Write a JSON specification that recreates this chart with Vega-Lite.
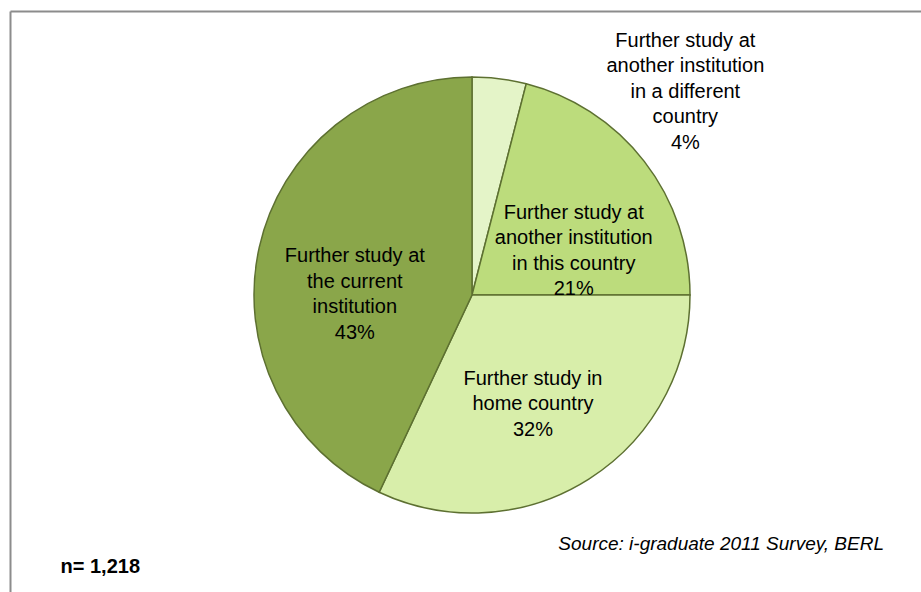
{
  "$schema": "https://vega.github.io/schema/vega-lite/v6.json",
  "width": 924,
  "height": 590,
  "autosize": {"type": "none"},
  "padding": {"left": 10, "top": 11, "right": 0, "bottom": 0},
  "background": "white",
  "config": {
    "view": {"stroke": null},
    "text": {"lineBreak": "\n"}
  },
  "title": {
    "text": "Source: i-graduate 2011 Survey, BERL",
    "orient": "bottom",
    "anchor": "end",
    "frame": "group",
    "font": "Liberation Sans",
    "fontSize": 19,
    "fontStyle": "italic",
    "fontWeight": "normal",
    "color": "black",
    "baseline": "alphabetic",
    "offset": 0,
    "dx": -50,
    "dy": -51
  },
  "data": {
    "values": [
      {"category": "Further study at another institution in a different country", "label": "Further study at\nanother institution\nin a different\ncountry\n4%", "share": 4, "rank": 1},
      {"category": "Further study at another institution in this country", "label": "Further study at\nanother institution\nin this country\n21%", "share": 21, "rank": 2},
      {"category": "Further study in home country", "label": "Further study in\nhome country\n32%", "share": 32, "rank": 3},
      {"category": "Further study at the current institution", "label": "Further study at\nthe current\ninstitution\n43%", "share": 43, "rank": 4}
    ]
  },
  "layer": [
    {
      "mark": {"type": "point", "opacity": 0},
      "encoding": {
        "x": {"field": "share", "type": "quantitative", "scale": {"domain": [0, 100], "nice": false},
          "axis": {"orient": "bottom", "values": [0], "grid": true, "gridColor": "#8c8c8c", "gridWidth": 2, "gridOpacity": 1,
            "domain": false, "ticks": false, "labels": false,
            "title": "n= 1,218", "titleFont": "Liberation Sans", "titleFontSize": 20, "titleFontWeight": "bold", "titleColor": "black",
            "titleAnchor": "start", "titleAlign": "left", "titleBaseline": "alphabetic", "titleX": 50, "titleY": -29}},
        "y": {"field": "share", "type": "quantitative", "scale": {"domain": [0, 100], "nice": false},
          "axis": {"orient": "left", "values": [100], "grid": true, "gridColor": "#8c8c8c", "gridWidth": 2, "gridOpacity": 1,
            "domain": false, "ticks": false, "labels": false, "title": null}}
      }
    },
    {
      "mark": {"type": "arc", "outerRadius": 218, "stroke": "#5d7031", "strokeWidth": 1.5, "yOffset": -11},
      "encoding": {
        "theta": {"field": "share", "type": "quantitative", "stack": true},
        "order": {"field": "rank", "type": "quantitative"},
        "color": {"field": "category", "type": "nominal", "legend": null,
          "scale": {"domain": [
            "Further study at another institution in a different country",
            "Further study at another institution in this country",
            "Further study in home country",
            "Further study at the current institution"],
            "range": ["#e4f4c8", "#bcdc7c", "#d8eeaa", "#8aa64a"]}}
      }
    },
    {
      "mark": {"type": "text", "align": "center", "baseline": "middle", "font": "Liberation Sans", "fontSize": 20, "lineHeight": 25.5, "color": "black", "dx": 182, "dy": -17},
      "encoding": {
        "theta": {"field": "share", "type": "quantitative", "stack": true},
        "order": {"field": "rank", "type": "quantitative"},
        "radius": {"value": 250},
        "text": {"condition": {"test": "datum.rank === 1", "field": "label", "type": "nominal"}, "value": ""}
      }
    },
    {
      "mark": {"type": "text", "align": "center", "baseline": "middle", "font": "Liberation Sans", "fontSize": 20, "lineHeight": 25.5, "color": "black", "dx": 14, "dy": -25},
      "encoding": {
        "theta": {"field": "share", "type": "quantitative", "stack": true},
        "order": {"field": "rank", "type": "quantitative"},
        "radius": {"value": 111},
        "text": {"condition": {"test": "datum.rank === 2", "field": "label", "type": "nominal"}, "value": ""}
      }
    },
    {
      "mark": {"type": "text", "align": "center", "baseline": "middle", "font": "Liberation Sans", "fontSize": 20, "lineHeight": 25.5, "color": "black", "dx": -6, "dy": -33},
      "encoding": {
        "theta": {"field": "share", "type": "quantitative", "stack": true},
        "order": {"field": "rank", "type": "quantitative"},
        "radius": {"value": 125},
        "text": {"condition": {"test": "datum.rank === 3", "field": "label", "type": "nominal"}, "value": ""}
      }
    },
    {
      "mark": {"type": "text", "align": "center", "baseline": "middle", "font": "Liberation Sans", "fontSize": 20, "lineHeight": 25.5, "color": "black", "dx": -3, "dy": -24},
      "encoding": {
        "theta": {"field": "share", "type": "quantitative", "stack": true},
        "order": {"field": "rank", "type": "quantitative"},
        "radius": {"value": 117},
        "text": {"condition": {"test": "datum.rank === 4", "field": "label", "type": "nominal"}, "value": ""}
      }
    }
  ]
}
